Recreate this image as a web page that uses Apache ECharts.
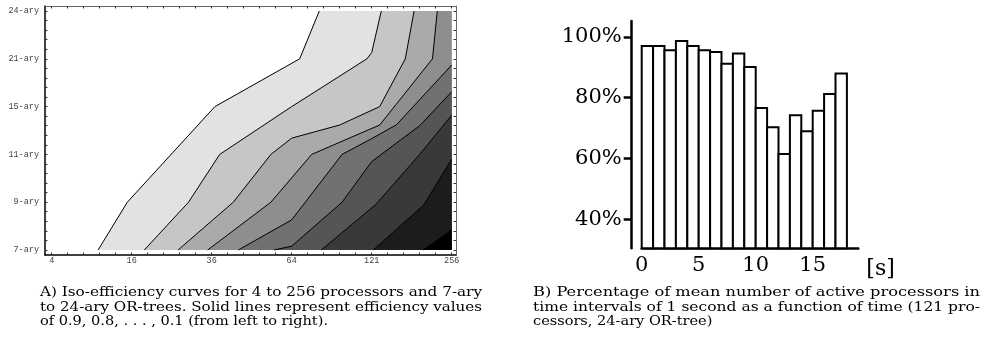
<!DOCTYPE html>
<html><head><meta charset="utf-8">
<script src="https://cdn.jsdelivr.net/npm/echarts@6/dist/echarts.min.js"></script>
<style>html,body{margin:0;padding:0;background:#fff}#c{width:985px;height:339px}</style>
</head><body><div id="c"></div><script>
// ---- Panel A: iso-efficiency contours (x: processor index, y: arity index)
const procLabels = ['4', '16', '36', '64', '121', '256'];
const arityLabels = ['7-ary', '9-ary', '11-ary', '15-ary', '21-ary', '24-ary'];
const effLevels = [0.9, 0.8, 0.7, 0.6, 0.5, 0.4, 0.3, 0.2, 0.1];
const iso09 = [[0.58,0],[0.945,1],[2.04,3],[3.10,4],[3.345,5]];
const iso08 = [[1.158,0],[1.71,1],[2.10,2],[3.0,3.0],[3.94,4],[4.0,4.13],[4.12,5]];
const iso07 = [[1.58,0],[2.27,1],[2.74,2],[3.0,2.34],[3.6,2.615],[4.1,3],[4.42,4],[4.53,5]];
const iso06 = [[1.95,0],[2.74,1],[3.25,2],[4.1,2.615],[4.76,4],[4.82,5]];
const iso05 = [[2.333,0],[3.0,0.63],[3.63,2],[4.0,2.33],[4.31,2.62],[5,3.87]];
const iso04 = [[2.78,0],[3.0,0.08],[3.63,1],[4.0,1.85],[4.6,2.6],[5,3.31]];
const iso03 = [[3.37,0],[4.05,0.95],[4.6,2],[5,2.82]];
const iso02 = [[4.02,0],[4.65,0.94],[5,1.9]];
const iso01 = [[4.645,0],[5,0.42]];
const isoLines = [iso09, iso08, iso07, iso06, iso05, iso04, iso03, iso02, iso01];
const bandFills = ['#e2e2e2','#c6c6c6','#aaaaaa','#8e8e8e','#717171','#555555','#393939','#1c1c1c','#000000'];

// ---- Panel B: active processors per 1 s interval
const timeSec = [0,1,2,3,4,5,6,7,8,9,10,11,12,13,14,15,16,17];
const activePct = [97,97,95.6,98.6,97,95.6,95,91.1,94.5,90.1,76.6,70.2,61.4,74.2,68.9,75.7,81.2,87.9];
const pctTicks = [40, 60, 80, 100];
const timeTicks = [0, 5, 10, 15];

// ---- Captions
const captionA = ['A) Iso-efficiency curves for 4 to 256 processors and 7-ary',
  'to 24-ary OR-trees. Solid lines represent efficiency values',
  'of 0.9, 0.8, . . . , 0.1 (from left to right).'];
const captionB = ['B) Percentage of mean number of active processors in',
  'time intervals of 1 second as a function of time (121 pro-',
  'cessors, 24-ary OR-tree)'];

const idxMax = procLabels.length - 1;
const minorTicks = [];
for (let i = 0; i <= idxMax * 5; i++) minorTicks.push(i / 5);
const majorTicks = procLabels.map((_, i) => i);

const monoFont = { fontFamily: 'Liberation Mono', fontSize: 8.5, color: '#444' };
const serif = 'DejaVu Serif';
const pMin = 30.4, pMax = 105.2;

function frameAxis(pos, grid, min, max, labels, thick, showLab) {
  return {
    type: 'value', gridIndex: grid, position: pos, min: min, max: max,
    axisLine: { show: true, onZero: false, lineStyle: { color: thick ? '#000' : '#666', width: thick ? 1.5 : 1 } },
    axisTick: { show: true, inside: true, length: 2.5, customValues: minorTicks, lineStyle: { color: '#333', width: 1 } },
    axisLabel: { show: showLab, customValues: majorTicks, formatter: v => labels[Math.round(v)], margin: pos === 'left' ? 6 : 1, ...monoFont },
    splitLine: { show: false }
  };
}

// caption lines: justified lines are stretched to the reference line end,
// the last (ragged) line of each caption uses the natural stretch of caption A's last line
const capFont = '12px "DejaVu Serif"';
const mctx = document.createElement('canvas').getContext('2d');
mctx.font = capFont;
const naturalScale = (328 - 40) / mctx.measureText(captionA[2]).width;
function captionEls(lines, x0, y0, ends) {
  return lines.map((t, i) => {
    const w = mctx.measureText(t).width;
    const sx = ends[i] ? (ends[i] - x0) / w : naturalScale;
    return { type: 'text', x: x0, y: y0 + i * 14.5, scaleX: sx, silent: true,
      style: { text: t, font: capFont, fill: '#000', verticalAlign: 'middle' } };
  });
}

const chart = echarts.init(document.getElementById('c'), null, { renderer: 'canvas' });
const series = [{
  type: 'custom', xAxisIndex: 0, yAxisIndex: 0, clip: true, silent: true,
  data: isoLines.map((_, i) => [i]),
  renderItem: function (params, api) {
    const k = api.value(0);
    const pts = isoLines[k];
    const last = pts[pts.length - 1];
    const poly = pts.concat(last[1] >= idxMax ? [[idxMax, idxMax]] : []).concat([[idxMax, 0]]);
    return { type: 'polygon', shape: { points: poly.map(p => api.coord(p)) }, style: { fill: bandFills[k], stroke: null } };
  }
}];
isoLines.forEach((ln, i) => series.push({
  type: 'line', name: String(effLevels[i]), xAxisIndex: 0, yAxisIndex: 0, data: ln,
  showSymbol: false, symbol: 'none', silent: true, lineStyle: { color: '#000', width: 1 }, z: 3
}));
series.push({
  type: 'custom', xAxisIndex: 2, yAxisIndex: 2, silent: true, clip: false,
  data: timeSec.map((t, i) => [t, activePct[i]]),
  renderItem: function (params, api) {
    const t = api.value(0), v = api.value(1);
    const a = api.coord([t, v]), b = api.coord([t + 1, pMin]);
    return { type: 'rect', shape: { x: a[0], y: a[1], width: b[0] - a[0], height: b[1] - a[1] },
      style: { fill: '#fff', stroke: '#000', lineWidth: 2 } };
  }
});

chart.setOption({
  animation: false,
  backgroundColor: '#fff',
  grid: [
    { left: 45, right: 529, top: 6, bottom: 84 },
    { left: 641.7, right: 126.7, top: 21, bottom: 90.7 }
  ],
  xAxis: [
    frameAxis('bottom', 0, -0.084, 5.054, procLabels, true, true),
    frameAxis('top', 0, -0.084, 5.054, procLabels, false, false),
    { type: 'value', gridIndex: 1, min: 0, max: 19, position: 'bottom',
      axisLine: { show: true, onZero: false, lineStyle: { color: '#000', width: 2.5 } },
      axisTick: { show: false },
      axisLabel: { customValues: timeTicks, margin: 7, fontFamily: serif, fontSize: 21, color: '#000' },
      splitLine: { show: false },
      name: '[s]', nameLocation: 'end', nameGap: 8,
      nameTextStyle: { fontFamily: serif, fontSize: 22, color: '#000', verticalAlign: 'top', padding: [10, 0, 0, 0] } }
  ],
  yAxis: [
    frameAxis('left', 0, -0.105, 5.105, arityLabels, true, true),
    frameAxis('right', 0, -0.105, 5.105, arityLabels, false, false),
    { type: 'value', gridIndex: 1, min: pMin, max: pMax, position: 'left', offset: 10,
      axisLine: { show: true, onZero: false, lineStyle: { color: '#000', width: 2.5 } },
      axisTick: { show: true, length: 8, customValues: pctTicks, lineStyle: { color: '#000', width: 2.5 } },
      axisLabel: { customValues: pctTicks, formatter: v => v + '%', margin: 10, fontFamily: serif, fontSize: 21, color: '#000' },
      splitLine: { show: false } }
  ],
  series: series,
  graphic: captionEls(captionA, 40, 293.3, [482, 482, 0]).concat(captionEls(captionB, 533, 293.3, [980, 980, 0]))
});
</script></body></html>
